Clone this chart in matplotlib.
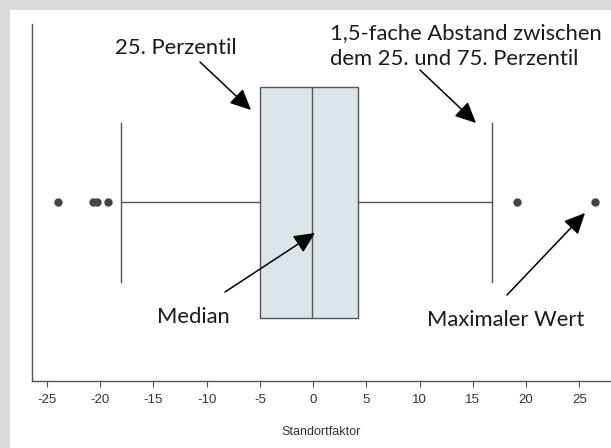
import matplotlib
matplotlib.use("Agg")
import matplotlib.pyplot as plt
from matplotlib.patches import Rectangle

# Kennwerte des Boxplots (Standortfaktor)
q1 = -5.0
median = -0.1
q3 = 4.2
whisker_low = -18.0
whisker_high = 16.8
outliers = [-24.0, -20.7, -20.3, -19.3, 19.1, 26.5]

xticks = [-25, -20, -15, -10, -5, 0, 5, 10, 15, 20, 25]

W, H = 611, 448
fig = plt.figure(figsize=(W / 100, H / 100), dpi=100, facecolor="#d9d9d9")
fig.patches.append(Rectangle((10 / W, 0), 1, (H - 10) / H, transform=fig.transFigure,
                             facecolor="white", edgecolor="none", zorder=-5))

ax = fig.add_axes([32 / W, (H - 381) / H, (W - 32) / W, (381 - 24) / H])
ax.set_facecolor("none")

stats = [{
    "med": median, "q1": q1, "q3": q3,
    "whislo": whisker_low, "whishi": whisker_high,
    "fliers": outliers,
}]
line_col = "#555555"
ax.bxp(stats, positions=[0], orientation="horizontal", widths=1.294,
       capwidths=0.896, patch_artist=True,
       boxprops=dict(facecolor="#dce6ea", edgecolor=line_col, linewidth=1.0),
       medianprops=dict(color=line_col, linewidth=1.0),
       whiskerprops=dict(color=line_col, linewidth=1.0),
       capprops=dict(color=line_col, linewidth=1.0),
       flierprops=dict(marker="o", markersize=5, markerfacecolor="#444444",
                       markeredgecolor="#444444"))

ax.set_xlim(-26.4, 27.97)
ax.set_ylim(-1, 1)
ax.set_yticks([])
ax.set_xticks(xticks)
ax.set_xticklabels([str(t) for t in xticks], family="Liberation Sans", fontsize=9.5, color="#333333")
ax.tick_params(axis="x", direction="out", length=4, width=0.8, color=line_col, pad=5)
ax.set_xlabel("Standortfaktor", family="Liberation Sans", fontsize=9, color="#333333", labelpad=15)
for side in ["top", "right"]:
    ax.spines[side].set_visible(False)
for side in ["left", "bottom"]:
    ax.spines[side].set_color(line_col)
    ax.spines[side].set_linewidth(1.0)


def fp(x, y):
    # Pixel von oben links -> Figurpixel
    return (x, H - y)


tfont = dict(family="Lato", fontsize=15.8, color="#1a1a1a")
fig.text(176 / W, 1 - 48 / H, "25. Perzentil", ha="center", va="center", **tfont)
fig.text(330 / W, 1 - 33 / H, "1,5-fache Abstand zwischen", ha="left", va="center", **tfont)
fig.text(330 / W, 1 - 59 / H, "dem 25. und 75. Perzentil", ha="left", va="center", **tfont)
fig.text(193 / W, 1 - 317 / H, "Median", ha="center", va="center", **tfont)
fig.text(506 / W, 1 - 320 / H, "Maximaler Wert", ha="center", va="center", **tfont)

arrows = [((200, 62), (251, 110)),
          ((420, 70), (476, 123)),
          ((225, 292), (315, 233)),
          ((507, 295), (585, 213))]
for tail, tip in arrows:
    ax.annotate("", xy=fp(*tip), xycoords="figure pixels",
                xytext=fp(*tail), textcoords="figure pixels",
                arrowprops=dict(arrowstyle="-|>,head_length=0.85,head_width=0.4",
                                color="black", lw=1.1, mutation_scale=15,
                                shrinkA=0, shrinkB=0))

fig.savefig("out.png", dpi=100, facecolor=fig.get_facecolor())
